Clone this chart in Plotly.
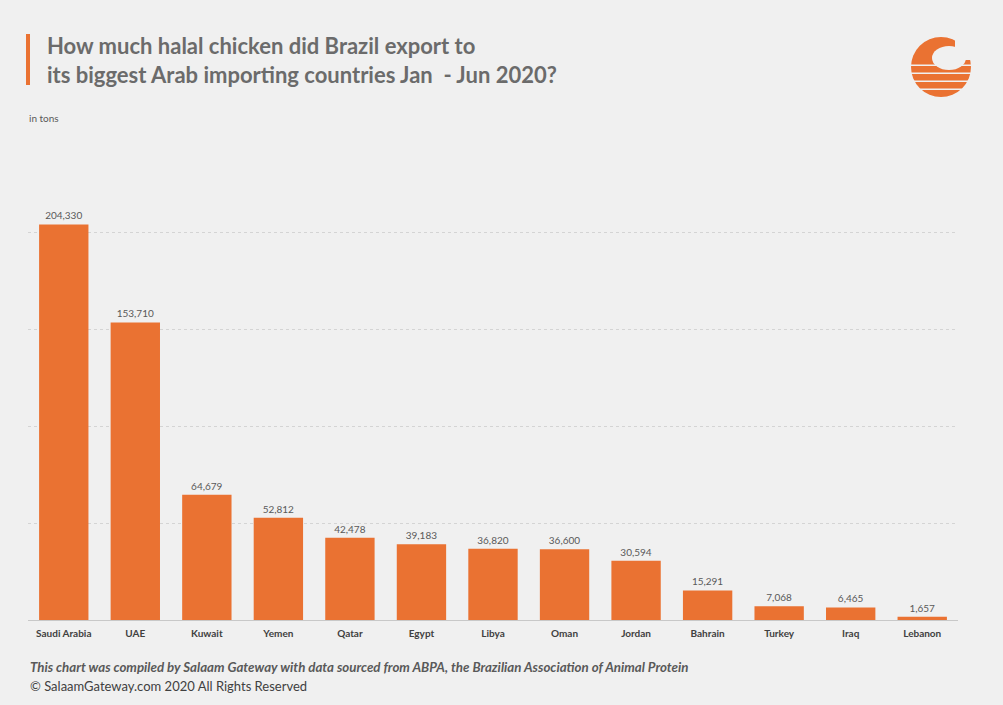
import plotly.graph_objects as go

countries = ["Saudi Arabia", "UAE", "Kuwait", "Yemen", "Qatar", "Egypt", "Libya",
             "Oman", "Jordan", "Bahrain", "Turkey", "Iraq", "Lebanon"]
tons = [204330, 153710, 64679, 52812, 42478, 39183, 36820, 36600, 30594, 15291, 7068, 6465, 1657]

BG = "#f0f0f0"
ORANGE = "#ea7232"

fig = go.Figure(go.Bar(
    x=countries, y=tons, marker_color=ORANGE, marker_line_width=0,
    text=[f"{v:,}" for v in tons], textposition="outside",
    textfont=dict(family="Lato", size=10, color="#595959"), cliponaxis=False,
    hoverinfo="x+y"))

L, R, T, B = 28, 958, 136, 620
W, H = 1003, 705

def px(x):
    return (x - L) / (R - L)

def py(y):
    return (B - y) / (B - T)

shapes = [
    dict(type="rect", xref="paper", yref="paper", x0=px(26), x1=px(30), y0=py(34), y1=py(85),
         fillcolor=ORANGE, line_width=0),
    # logo
    dict(type="circle", xref="paper", yref="paper", x0=px(911), x1=px(971), y0=py(97), y1=py(37),
         fillcolor=ORANGE, line_width=0),
    dict(type="circle", xref="paper", yref="paper", x0=px(932), x1=px(966), y0=py(70), y1=py(46),
         fillcolor=BG, line_width=0),
    dict(type="rect", xref="paper", yref="paper", x0=px(955), x1=px(975), y0=py(60), y1=py(30),
         fillcolor=BG, line_width=0),
    dict(type="rect", xref="paper", yref="paper", x0=px(905), x1=px(975), y0=py(66), y1=py(64.5),
         fillcolor=BG, line_width=0),
    dict(type="rect", xref="paper", yref="paper", x0=px(905), x1=px(975), y0=py(74), y1=py(72.5),
         fillcolor=BG, line_width=0),
    dict(type="rect", xref="paper", yref="paper", x0=px(905), x1=px(975), y0=py(82), y1=py(80.5),
         fillcolor=BG, line_width=0),
    dict(type="rect", xref="paper", yref="paper", x0=px(905), x1=px(975), y0=py(90), y1=py(88.5),
         fillcolor=BG, line_width=0),
]

annotations = [
    dict(text="<b>How much halal chicken did Brazil export to<br>its biggest Arab importing countries Jan  - Jun 2020?</b>",
         xref="paper", yref="paper", x=px(45), y=py(30), xanchor="left", yanchor="top", align="left",
         showarrow=False, font=dict(family="Lato", size=22, color="#6b6b6b")),
    dict(text="in tons", xref="paper", yref="paper", x=px(27), y=py(118), xanchor="left", yanchor="middle",
         showarrow=False, font=dict(family="Lato", size=10, color="#595959")),
    dict(text="<b><i>This chart was compiled by Salaam Gateway with data sourced from ABPA, the Brazilian Association of Animal Protein</i></b>",
         xref="paper", yref="paper", x=px(28), y=py(667), xanchor="left", yanchor="middle",
         showarrow=False, font=dict(family="Lato", size=13.3, color="#595959")),
    dict(text="© SalaamGateway.com 2020 All Rights Reserved",
         xref="paper", yref="paper", x=px(28), y=py(686), xanchor="left", yanchor="middle",
         showarrow=False, font=dict(family="Lato", size=13, color="#404040")),
]

fig.update_layout(
    width=W, height=H, paper_bgcolor=BG, plot_bgcolor=BG,
    margin=dict(l=L, r=W - R, t=T, b=H - B),
    bargap=0.31, showlegend=False,
    shapes=shapes, annotations=annotations,
    xaxis=dict(tickfont=dict(family="Lato", size=10, color="#404040"), showgrid=False,
               ticks="", showline=False, fixedrange=True, ticklabelstandoff=6),
    yaxis=dict(range=[0, 250000], dtick=50000, showticklabels=False, showgrid=True,
               gridcolor="#d4d4d4", griddash="dot", gridwidth=1,
               zeroline=True, zerolinecolor="#c8c8c8", zerolinewidth=1, fixedrange=True),
)
fig.update_xaxes(tickprefix="<b>", ticksuffix="</b>")

fig.write_html("out.html", config={"displayModeBar": False},
               post_script="document.body.style.margin='0';document.body.style.background='#f0f0f0';")
